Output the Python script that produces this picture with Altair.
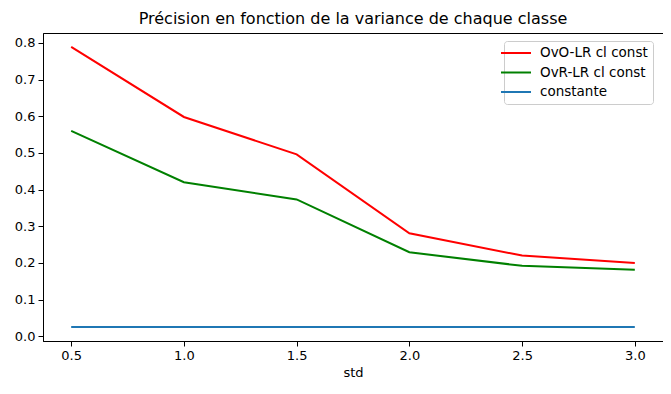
import altair as alt
import pandas as pd

std = [0.5, 1.0, 1.5, 2.0, 2.5, 3.0]
ovo = [0.789, 0.598, 0.496, 0.281, 0.220, 0.200]
ovr = [0.560, 0.420, 0.373, 0.229, 0.192, 0.181]
const = [0.025, 0.025, 0.025, 0.025, 0.025, 0.025]
series = ["OvO-LR cl const", "OvR-LR cl const", "constante"]
colors = ["red", "green", "#1f77b4"]

rows = []
for name, vals in zip(series, [ovo, ovr, const]):
    for s, v in zip(std, vals):
        rows.append({"std": s, "val": v, "serie": name})
df = pd.DataFrame(rows)

font = "DejaVu Sans"

chart = alt.Chart(df).mark_line(strokeWidth=2).encode(
    x=alt.X("std:Q", title="std",
            scale=alt.Scale(domain=[0.375, 3.125], nice=False, zero=False),
            axis=alt.Axis(values=std, format=".1f")),
    y=alt.Y("val:Q", title=None,
            scale=alt.Scale(domain=[-0.013, 0.827], nice=False, zero=False),
            axis=alt.Axis(values=[0, 0.1, 0.2, 0.3, 0.4, 0.5, 0.6, 0.7, 0.8], format=".1f")),
    color=alt.Color("serie:N", scale=alt.Scale(domain=series, range=colors),
                    sort=series,
                    legend=alt.Legend(title=None, orient="none", legendX=461, legendY=8,
                                      symbolType="M-2.5,0H2.5", symbolSize=144,
                                      symbolFillColor="transparent",
                                      symbolStrokeWidth=2, labelFont=font, labelFontSize=13.5,
                                      fillColor="white", strokeColor="#cccccc",
                                      cornerRadius=3, padding=5, rowPadding=5.5,
                                      labelOffset=17, labelColor="black")),
    detail="serie:N",
).properties(
    width=620, height=308,
    title=alt.TitleParams("Précision en fonction de la variance de chaque classe",
                          font=font, fontSize=16, fontWeight="normal", color="black",
                          offset=6),
    autosize=alt.AutoSizeParams(type="none"),
    padding={"left": 35, "top": 25, "right": 0, "bottom": 45},
).configure_view(
    stroke="black", strokeWidth=1
).configure_axis(
    grid=False, domainColor="black", tickColor="black", tickSize=5,
    labelFont=font, labelFontSize=13, labelColor="black",
    titleFont=font, titleFontSize=13, titleFontWeight="normal", titleColor="black",
    labelPadding=3
)

chart.save("out.html", embed_options={"renderer": "svg", "actions": False})
